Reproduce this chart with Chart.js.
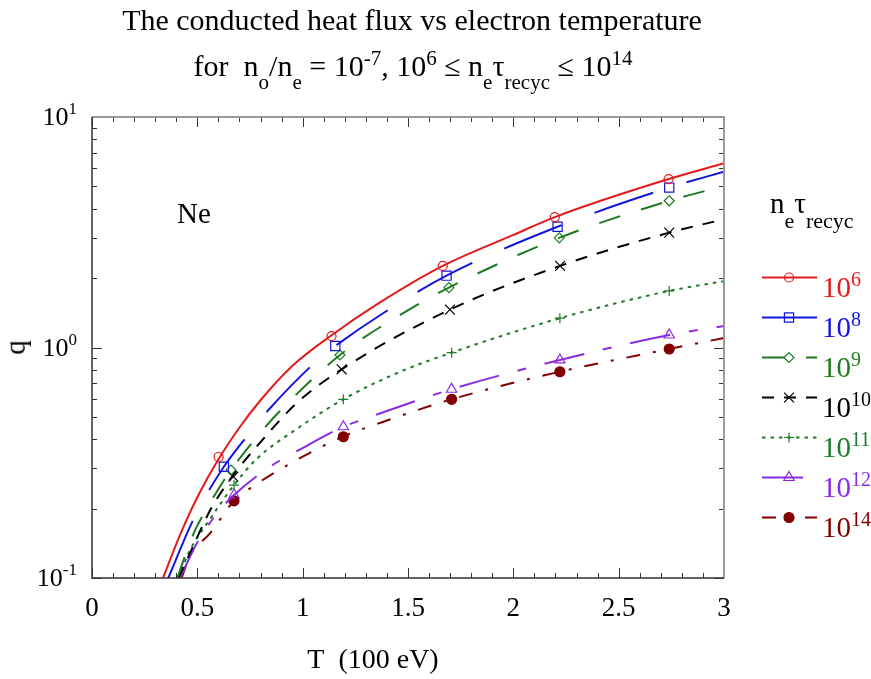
<!DOCTYPE html>
<html><head><meta charset="utf-8">
<script src="https://cdn.jsdelivr.net/npm/chart.js@4"></script>
<style>
html,body{margin:0;padding:0;background:#fff;}
#wrap{position:relative;width:871px;height:679px;overflow:hidden;font-family:'Liberation Serif','Times New Roman',serif;background:#fff;}
canvas{position:absolute;left:0;top:0;}
.t{position:absolute;line-height:1;white-space:nowrap;color:#000;}
</style></head><body><div id="wrap"><canvas id="c" width="871" height="679"></canvas></div>
<script>
// ---- data ----
const seriesExp = ['6', '8', '9', '10', '11', '12', '14'];
const xTickLabels = ['0', '0.5', '1', '1.5', '2', '2.5', '3'];
const yTickExp = ['-1', '0', '1'];

const T6 = [0.337, 0.418, 0.503, 0.598, 0.702, 0.797, 0.954, 1.134, 1.367, 1.665, 2.0, 2.197, 2.737, 3.0];
const Q6 = [0.1, 0.154, 0.227, 0.325, 0.452, 0.586, 0.837, 1.125, 1.569, 2.26, 3.08, 3.68, 5.38, 6.30];
const T8 = [0.362, 0.473, 0.552, 0.626, 0.71, 0.845, 1.082, 1.155, 1.367, 1.683, 2.21, 2.74, 3.0];
const Q8 = [0.1, 0.173, 0.237, 0.304, 0.385, 0.545, 0.90, 1.015, 1.38, 2.05, 3.34, 4.94, 5.79];
const T9 = [0.405, 0.441, 0.489, 0.528, 0.607, 0.66, 0.797, 0.892, 1.177, 1.505, 1.694, 2.218, 2.74, 3.0];
const Q9 = [0.1, 0.124, 0.161, 0.188, 0.249, 0.294, 0.424, 0.53, 0.928, 1.46, 1.82, 2.99, 4.33, 5.02];
const T10 = [0.41, 0.465, 0.513, 0.568, 0.671, 0.781, 0.971, 1.185, 1.699, 2.222, 2.74, 3.0];
const Q10 = [0.1, 0.128, 0.16, 0.202, 0.28, 0.371, 0.573, 0.804, 1.46, 2.26, 3.15, 3.60];
const T11 = [0.41, 0.465, 0.56, 0.674, 0.781, 0.987, 1.193, 1.446, 1.707, 2.221, 2.74, 3.0];
const Q11 = [0.1, 0.132, 0.18, 0.253, 0.328, 0.453, 0.596, 0.773, 0.95, 1.34, 1.76, 1.94];
const T12 = [0.418, 0.497, 0.592, 0.674, 0.845, 1.011, 1.193, 1.288, 1.707, 2.221, 2.74, 3.0];
const Q12 = [0.1, 0.141, 0.19, 0.229, 0.304, 0.371, 0.453, 0.488, 0.659, 0.883, 1.133, 1.24];
const T14 = [0.425, 0.465, 0.56, 0.674, 0.774, 0.971, 1.19, 1.383, 1.707, 2.221, 2.74, 3.0];
const Q14 = [0.1, 0.125, 0.156, 0.216, 0.253, 0.325, 0.41, 0.476, 0.596, 0.785, 0.985, 1.1];

// marker points
const M6T = [0.601, 1.137, 1.665, 2.197, 2.737];
const M6Q = [0.335, 1.12, 2.26, 3.68, 5.38];
const M8T = [0.626, 1.155, 1.683, 2.21, 2.74];
const M8Q = [0.304, 1.015, 2.05, 3.34, 4.94];
const M9T = [0.66, 1.177, 1.694, 2.218, 2.74];
const M9Q = [0.294, 0.928, 1.82, 2.99, 4.33];
const M10T = [0.671, 1.185, 1.699, 2.222, 2.74];
const M10Q = [0.275, 0.804, 1.46, 2.26, 3.15];
const M11T = [0.674, 1.193, 1.707, 2.221, 2.74];
const M11Q = [0.253, 0.596, 0.95, 1.34, 1.76];
const M12T = [0.674, 1.193, 1.707, 2.221, 2.74];
const M12Q = [0.229, 0.453, 0.659, 0.883, 1.133];
const M14T = [0.674, 1.193, 1.707, 2.221, 2.74];
const M14Q = [0.216, 0.41, 0.596, 0.785, 0.985];

// ---- styles ----
const styles = [
  {c:'#e31a1c', dash:[], ps:'circle', r:4.5, fill:false},
  {c:'#1414e0', dash:[62,35], ps:'rect', r:6.5, fill:false},
  {c:'#1f7a1f', dash:[22,22], ps:'rectRot', r:5, fill:false},
  {c:'#000000', dash:[12,10], ps:'crossRot', r:7, fill:false},
  {c:'#1f7a2a', dash:[3.5,5], ps:'cross', r:5, fill:false},
  {c:'#8a2be2', dash:[41,19,9,19], ps:'triangle', r:6, fill:false},
  {c:'#800000', dash:[14,13,3,13], ps:'circle', r:5, fill:true}
];
const curves = [[T6,Q6],[T8,Q8],[T9,Q9],[T10,Q10],[T11,Q11],[T12,Q12],[T14,Q14]];
const marks = [[M6T,M6Q],[M8T,M8Q],[M9T,M9Q],[M10T,M10Q],[M11T,M11Q],[M12T,M12Q],[M14T,M14Q]];
const pts = (t,q) => t.map((v,i) => ({x:v, y:q[i]}));

const datasets = [];
curves.forEach((cv,i) => {
  const s = styles[i];
  datasets.push({label:'1e'+seriesExp[i], data:pts(cv[0],cv[1]), borderColor:s.c, borderWidth:2,
    borderDash:s.dash, pointRadius:0, fill:false, cubicInterpolationMode:'monotone'});
});
marks.forEach((m,i) => {
  const s = styles[i];
  datasets.push({label:'m'+seriesExp[i], data:pts(m[0],m[1]), showLine:false, pointStyle:s.ps,
    pointRadius:s.r, pointBorderWidth:1.2, pointBorderColor:s.c,
    pointBackgroundColor: s.fill ? s.c : 'rgba(0,0,0,0)'});
});

const legendX0 = 762, legendX1 = 817, legendMx = 789;
const legendY = [277, 317, 357, 397, 437, 477, 517];

function drawMarker(ctx, s, x, y){
  ctx.save();
  ctx.setLineDash([]);
  ctx.strokeStyle = s.c; ctx.fillStyle = s.fill ? s.c : 'rgba(0,0,0,0)'; ctx.lineWidth = 1.2;
  if (Chart.helpers && Chart.helpers.drawPoint) {
    Chart.helpers.drawPoint(ctx, {pointStyle:s.ps, radius:s.r, rotation:0, borderWidth:1.2}, x, y);
  }
  ctx.restore();
}

const framePlugin = {
  id:'frame',
  afterDraw(chart){
    const {ctx, chartArea:a, scales:{x, y}} = chart;
    ctx.save();
    ctx.setLineDash([]);
    ctx.strokeStyle = '#333'; ctx.lineWidth = 1;
    for (let k = 0; k <= 30; k++) {
      const v = k/10, px = Math.round(x.getPixelForValue(v)) + 0.5;
      const L = (k % 5 === 0) ? 10 : 5;
      ctx.beginPath();
      ctx.moveTo(px, a.bottom); ctx.lineTo(px, a.bottom - L);
      ctx.moveTo(px, a.top); ctx.lineTo(px, a.top + L);
      ctx.stroke();
    }
    for (let e = -1; e <= 1; e++) {
      for (let m = 1; m <= 9; m++) {
        const v = m * Math.pow(10, e);
        if (v > 10.0001) break;
        const py = Math.round(y.getPixelForValue(v)) + 0.5;
        const L = (m === 1) ? 10 : 5;
        ctx.beginPath();
        ctx.moveTo(a.left, py); ctx.lineTo(a.left + L, py);
        ctx.moveTo(a.right, py); ctx.lineTo(a.right - L, py);
        ctx.stroke();
      }
    }
    ctx.lineWidth = 2; ctx.strokeStyle = '#999';
    ctx.beginPath(); ctx.moveTo(a.left, a.top); ctx.lineTo(a.right, a.top); ctx.lineTo(a.right, a.bottom); ctx.stroke();
    ctx.lineWidth = 1.5; ctx.strokeStyle = '#333';
    ctx.beginPath(); ctx.moveTo(a.left, a.top); ctx.lineTo(a.left, a.bottom); ctx.lineTo(a.right, a.bottom); ctx.stroke();
    styles.forEach((s,i) => {
      const ly = legendY[i] + 0.5;
      ctx.strokeStyle = s.c; ctx.lineWidth = 2; ctx.setLineDash(s.dash);
      ctx.beginPath(); ctx.moveTo(legendX0, ly); ctx.lineTo(legendX1, ly); ctx.stroke();
      drawMarker(ctx, s, legendMx, ly);
    });
    ctx.restore();
  }
};

const chart = new Chart(document.getElementById('c'), {
  type:'line',
  data:{datasets},
  options:{
    responsive:false, animation:false, devicePixelRatio:1,
    layout:{padding:{left:92, top:117, right:147, bottom:101}},
    plugins:{legend:{display:false}, tooltip:{enabled:false}},
    scales:{
      x:{type:'linear', min:0, max:3, display:false},
      y:{type:'logarithmic', min:0.1, max:10, display:false}
    }
  },
  plugins:[framePlugin]
});

// ---- text overlays ----
const wrap = document.getElementById('wrap');
function txt(html, x, base, size, align, color){
  const d = document.createElement('div'); d.className = 't'; d.innerHTML = html;
  d.style.fontSize = size + 'px'; d.style.top = (base - 0.8375*size) + 'px';
  if (color) d.style.color = color;
  if (align === 'center') { d.style.left = x + 'px'; d.style.transform = 'translateX(-50%)'; }
  else if (align === 'right') { d.style.right = (871 - x) + 'px'; }
  else d.style.left = x + 'px';
  wrap.appendChild(d); return d;
}
const sup = (s,size,raise) => `<span style="font-size:${size}px;position:relative;top:${-raise}px">${s}</span>`;
const sub = (s,size,drop) => `<span style="font-size:${size}px;position:relative;top:${drop}px">${s}</span>`;

txt('The conducted heat flux vs electron temperature', 412, 30, 30, 'center');
txt(`for&nbsp; n${sub('o',21,13)}/n${sub('e',21,13)} = 10${sup('-7',21,11)}, 10${sup('6',21,11)} ≤ n${sub('e',21,13)}τ${sub('recyc',21,13)} ≤ 10${sup('14',21,11)}`, 413, 76, 30, 'center');

const xs = chart.scales.x, ys = chart.scales.y;
xTickLabels.forEach(l => txt(l, xs.getPixelForValue(parseFloat(l)), 617, 27, 'center'));
yTickExp.forEach(e => txt('10' + sup(e, 17, 11), 77, ys.getPixelForValue(Math.pow(10, parseFloat(e))) + 9, 26, 'right'));

txt('T&nbsp; (100 eV)', 373, 668, 28, 'center');
const q = txt('q', 16, 346, 29, 'left');
q.style.left = '8px'; q.style.top = '333px'; q.style.transform = 'rotate(-90deg)';

txt('Ne', 177, 223, 29, 'left');
txt(`n${sub('e',22,15)}τ${sub('recyc',22,15)}`, 770, 213, 29, 'left');
seriesExp.forEach((e,i) => txt('10' + sup(e, 20, 11), 822, legendY[i] + 20, 29, 'left', styles[i].c));
</script>
</body></html>
